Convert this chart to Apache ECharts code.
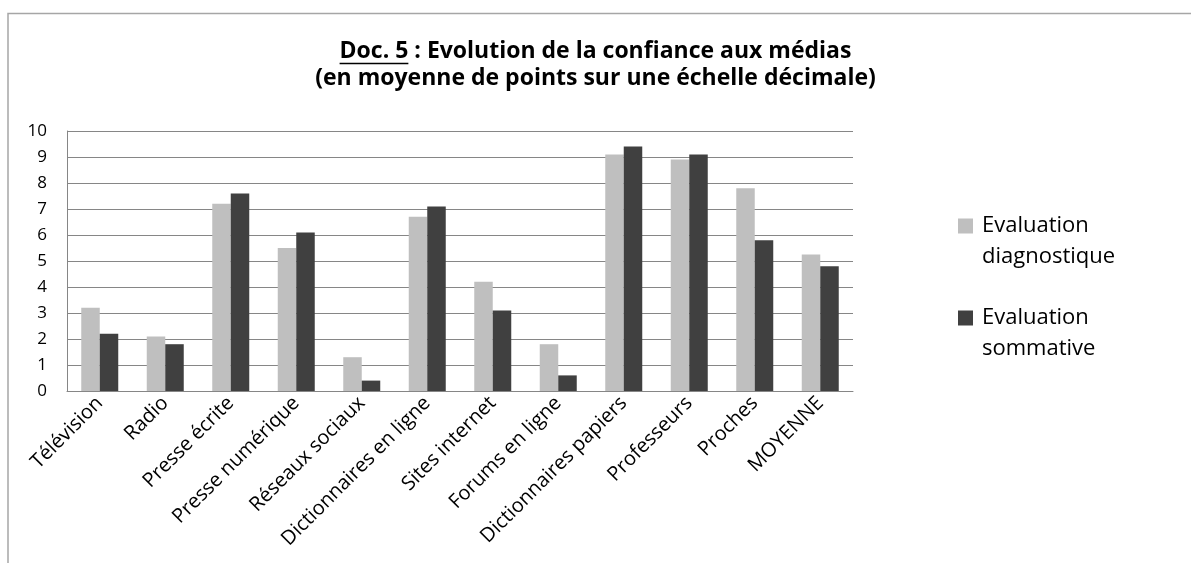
<!DOCTYPE html>
<html>
<head>
<meta charset="utf-8">
<script src="https://cdn.jsdelivr.net/npm/echarts@6/dist/echarts.min.js"></script>
<style>
  html, body { margin: 0; padding: 0; background: #fff; }
  #chart { width: 1191px; height: 563px; }
</style>
</head>
<body>
<div id="chart"></div>
<script>
var categories = ['Télévision', 'Radio', 'Presse écrite', 'Presse numérique', 'Réseaux sociaux',
    'Dictionnaires en ligne', 'Sites internet', 'Forums en ligne', 'Dictionnaires papiers',
    'Professeurs', 'Proches', 'MOYENNE'];
var diagnostique = [3.2, 2.1, 7.2, 5.5, 1.3, 6.7, 4.2, 1.8, 9.1, 8.9, 7.8, 5.25];
var sommative = [2.2, 1.8, 7.6, 6.1, 0.4, 7.1, 3.1, 0.6, 9.4, 9.1, 5.8, 4.8];
var seriesNames = ['Evaluation\ndiagnostique', 'Evaluation\nsommative'];

var FONT = '"Open Sans", sans-serif';
var titleLine1 = 'Doc. 5 : Evolution de la confiance aux médias';
var titleLine2 = '(en moyenne de points sur une échelle décimale)';
var titleSize = 23;

// width of the text, for the underline under "Doc. 5"
function textWidth(str, font) {
    var ctx = document.createElement('canvas').getContext('2d');
    ctx.font = font;
    return ctx.measureText(str).width;
}
var titleFont = 'bold ' + titleSize + 'px "Open Sans"';
var fullW = textWidth(titleLine1, titleFont);
var docW = textWidth('Doc. 5', titleFont);
var ulLeft = 1191 / 2 - fullW / 2;

var chart = echarts.init(document.getElementById('chart'));
var gray = '#868686';

chart.setOption({
    animation: false,
    textStyle: { fontFamily: FONT },
    title: {
        text: titleLine1 + '\n' + titleLine2,
        left: 'center',
        top: 33,
        textStyle: {
            fontFamily: FONT,
            fontSize: titleSize,
            fontWeight: 'bold',
            color: '#000',
            lineHeight: 27
        }
    },
    graphic: [{
        type: 'polyline',
        shape: { points: [[8, 600], [8, 13.5], [1200, 13.5]] },
        style: { stroke: '#a6a6a6', lineWidth: 1.5, fill: null }
    }, {
        type: 'line',
        shape: { x1: ulLeft, y1: 63.5, x2: ulLeft + docW, y2: 63.5 },
        style: { stroke: '#000', lineWidth: 1.4 }
    }],
    legend: {
        orient: 'vertical',
        left: 958,
        top: 210,
        padding: 0,
        itemWidth: 15,
        itemHeight: 45,
        itemGap: 30,
        icon: 'path://M0,0H15V15H0Z M0,45H15',
        textStyle: {
            fontFamily: FONT,
            fontSize: 22,
            lineHeight: 31,
            color: '#000',
            padding: [0, 0, 0, 4]
        },
        data: seriesNames
    },
    grid: {
        left: 67,
        right: 338,
        top: 131,
        bottom: 172,
        containLabel: false
    },
    xAxis: {
        type: 'category',
        data: categories,
        axisLine: { lineStyle: { color: gray, width: 1 } },
        axisTick: { show: false },
        axisLabel: {
            interval: 0,
            rotate: 45,
            margin: 9,
            fontSize: 20,
            color: '#000',
            fontFamily: FONT
        }
    },
    yAxis: {
        type: 'value',
        min: 0,
        max: 10,
        interval: 1,
        axisLine: { show: true, lineStyle: { color: gray, width: 1 } },
        axisTick: { show: false },
        splitLine: { lineStyle: { color: gray, width: 1 } },
        axisLabel: {
            fontSize: 17,
            color: '#000',
            margin: 20,
            fontFamily: FONT
        }
    },
    series: [{
        name: seriesNames[0],
        type: 'bar',
        data: diagnostique,
        barWidth: 18.5,
        barGap: '0%',
        itemStyle: { color: '#bfbfbf' }
    }, {
        name: seriesNames[1],
        type: 'bar',
        data: sommative,
        barWidth: 18.5,
        barGap: '0%',
        itemStyle: { color: '#404040' }
    }]
});
</script>
</body>
</html>
